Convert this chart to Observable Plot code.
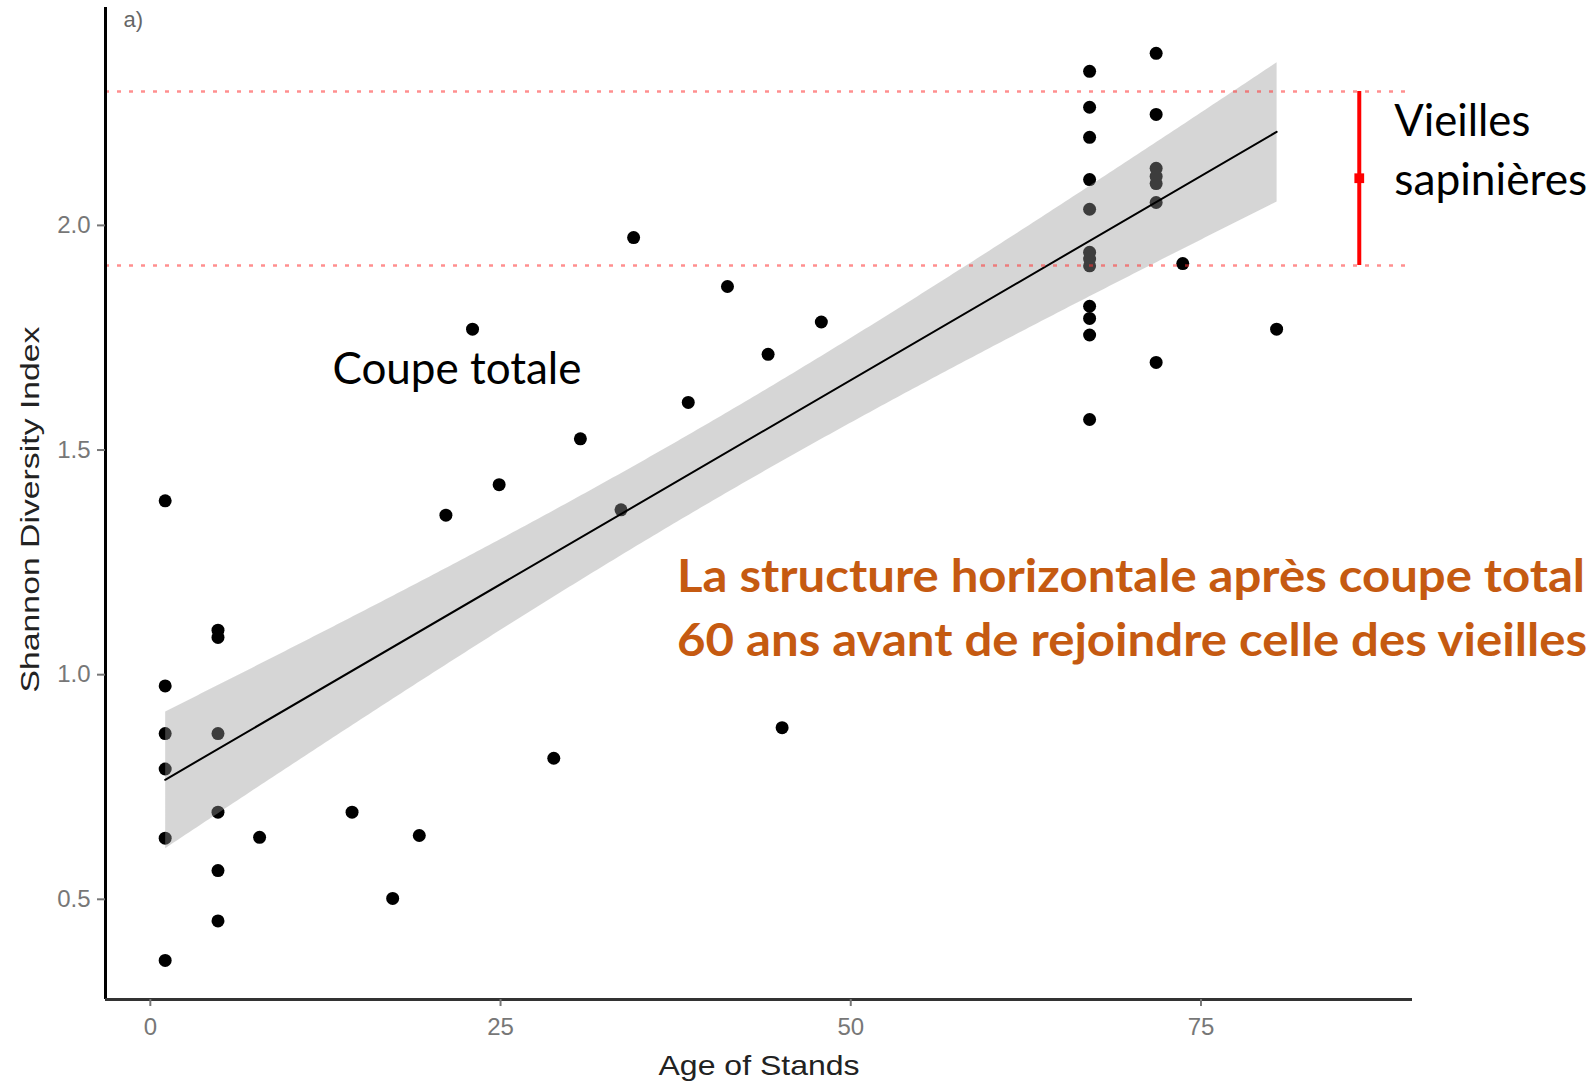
<!DOCTYPE html>
<html><head><meta charset="utf-8">
<script src="https://cdn.jsdelivr.net/npm/d3@7"></script>
<script src="https://cdn.jsdelivr.net/npm/@observablehq/plot@0.6"></script>
<style>html,body{margin:0;padding:0;background:#fff;overflow:hidden;width:1595px;height:1085px}</style>
</head><body><div id="chart"></div>
<script>
// Stand age (years) and Shannon diversity index
const standAge = [
  1.06, 1.06, 1.06, 1.06, 1.06, 1.06,
  4.83, 4.83, 4.83, 4.83, 4.83, 4.83,
  7.8, 14.4, 17.3, 19.2, 21.1, 23.0, 24.9, 28.8, 30.7, 33.6, 34.5, 38.4, 41.2, 44.1, 45.1, 47.9,
  67.05, 67.05, 67.05, 67.05, 67.05, 67.05, 67.05, 67.05, 67.05, 67.05, 67.05, 67.05,
  71.8, 71.8, 71.8, 71.8, 71.8, 71.8, 71.8,
  73.7, 80.4
];
const shannonIndex = [
  1.387, 0.975, 0.869, 0.790, 0.636, 0.364,
  1.099, 1.083, 0.869, 0.694, 0.564, 0.452,
  0.638, 0.694, 0.502, 0.642, 1.355, 1.769, 1.423, 0.814, 1.525, 1.367, 1.973, 1.606, 1.864, 1.713, 0.882, 1.785,
  2.343, 2.263, 2.196, 2.102, 2.036, 1.940, 1.925, 1.910, 1.820, 1.793, 1.756, 1.568,
  2.383, 2.247, 2.127, 2.109, 2.093, 2.051, 1.695,
  1.915, 1.769
];
const xTicks = [0, 25, 50, 75];
const yTicks = [0.5, 1.0, 1.5, 2.0];
// Old fir stands reference (range and mean)
const oldStandAge = [86.3];
const oldStandLow = [1.911];
const oldStandHigh = [2.298];
const oldStandMean = [2.105];
// Annotation texts and their anchors in data units
const blackLabels = ["Coupe totale", "Vieilles", "sapinières"];
const blackLabelAge = [13.0, 88.8, 88.8];
const blackLabelIndex = [1.678, 2.231, 2.099];
const orangeLabels = ["La structure horizontale après coupe total", "60 ans avant de rejoindre celle des vieilles"];
const orangeLabelAge = [37.6, 37.6];
const orangeLabelIndex = [1.216, 1.074];

const xDomain = [-3.2, 90.1];
const yDomain = [0.277, 2.485];

const points = standAge.map((a, i) => ({age: a, h: shannonIndex[i]}));
const oldStand = oldStandAge.map((a, i) => ({age: a, lo: oldStandLow[i], hi: oldStandHigh[i], m: oldStandMean[i]}));
const blackAnn = blackLabels.map((t, i) => ({t, age: blackLabelAge[i], h: blackLabelIndex[i]}));
const orangeAnn = orangeLabels.map((t, i) => ({t, age: orangeLabelAge[i], h: orangeLabelIndex[i]}));

const svg = Plot.plot({
  width: 1595, height: 1085,
  marginLeft: 105, marginRight: 183, marginTop: 7, marginBottom: 86,
  x: {domain: xDomain},
  y: {domain: yDomain},
  style: {fontFamily: "'Liberation Sans', Arial, sans-serif", background: "white", overflow: "hidden"},
  marks: [
    Plot.dot(points, {x: "age", y: "h", r: 6.5, fill: "black", stroke: "none"}),
    Plot.linearRegressionY(points, {x: "age", y: "h", stroke: "black", strokeWidth: 2, fill: "#999999", fillOpacity: 0.4}),
    Plot.ruleY([oldStandHigh[0], oldStandLow[0]], {stroke: "#ff3333", strokeOpacity: 0.55, strokeWidth: 2.5, strokeDasharray: "4,8"}),
    Plot.ruleX(oldStand, {x: "age", y1: "lo", y2: "hi", stroke: "#ff0000", strokeWidth: 4}),
    Plot.dot(oldStand, {x: "age", y: "m", r: 5.5, fill: "#ff0000", stroke: "none", symbol: "square"}),
    Plot.ruleX([xDomain[0]], {stroke: "black", strokeWidth: 3}),
    Plot.ruleY([yDomain[0]], {stroke: "#333333", strokeWidth: 3}),
    Plot.axisY(yTicks, {tickFormat: d3.format(".1f"), tickSize: 8, tickPadding: 7, fontSize: 24, color: "#777777", strokeWidth: 2, label: null}),
    Plot.axisX(xTicks, {tickSize: 7, tickPadding: 11, fontSize: 24, color: "#777777", strokeWidth: 2, label: null}),
    Plot.text(["Shannon Diversity Index"], {frameAnchor: "left", rotate: -90, dx: -75, dy: 189, textAnchor: "start", fontSize: 25, fill: "#222222"}),
    Plot.text(["Age of Stands"], {frameAnchor: "bottom", dy: 75, fontSize: 28, fill: "#222222"}),
    Plot.text(["a)"], {frameAnchor: "top-left", dx: 18, dy: 4, textAnchor: "start", fontSize: 22, fill: "#666666"}),
    Plot.text(blackAnn, {x: "age", y: "h", text: "t", textAnchor: "start", fontSize: 44, fontFamily: "Lato", fill: "black"}),
    Plot.text(orangeAnn, {x: "age", y: "h", text: "t", textAnchor: "start", fontSize: 46, fontWeight: "bold", fontFamily: "Lato", fill: "#C55A11"})
  ]
});

const fit = {
  "Shannon Diversity Index": 366, "Age of Stands": 201, "Coupe totale": 249,
  "Vieilles": 136, "sapinières": 193,
  "La structure horizontale après coupe total": 908,
  "60 ans avant de rejoindre celle des vieilles": 910
};
d3.select(svg).selectAll("text").each(function() {
  const w = fit[this.textContent];
  if (w) { this.setAttribute("textLength", w); this.setAttribute("lengthAdjust", "spacingAndGlyphs"); }
});
document.getElementById("chart").appendChild(svg);
</script>
</body></html>
